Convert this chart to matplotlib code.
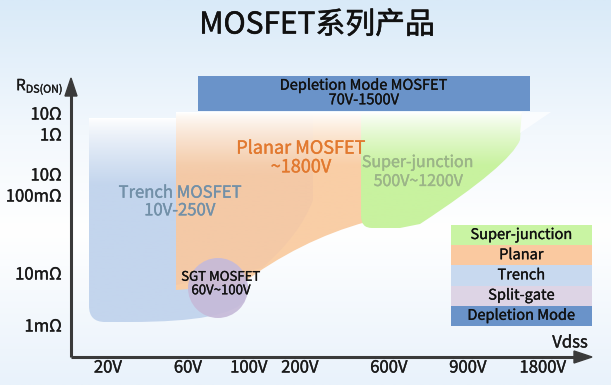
"""MOSFET product family map (Rds(on) vs Vdss), drawn in pixel space."""

import matplotlib
matplotlib.use("Agg")
import matplotlib.patheffects as pe
import matplotlib.pyplot as plt
import numpy as np
from matplotlib.colors import LinearSegmentedColormap, to_rgb
from matplotlib.patches import Circle, PathPatch, Polygon, Rectangle
from matplotlib.path import Path

plt.rcParams["font.family"] = ["Noto Sans CJK SC", "DejaVu Sans"]

# ---- data ----
title = "MOSFET系列产品"
x_tick_labels = ["20V", "60V", "100V", "200V", "600V", "900V", "1800V"]
y_tick_labels = ["10Ω", "1Ω", "10Ω", "100mΩ", "10mΩ", "1mΩ"]
family_names = ["Trench MOSFET", "Planar MOSFET", "Super-junction", "SGT MOSFET", "Depletion Mode MOSFET"]
family_ranges = ["10V-250V", "~1800V", "500V~1200V", "60V~100V", "70V-1500V"]
legend_names = ["Super-junction", "Planar", "Trench", "Split-gate", "Depletion Mode"]
legend_colors = ["#c9f4a3", "#fac9a0", "#c8d9ef", "#ddd4e5", "#6a93c9"]

# ---- layout (pixels) ----
W, H = 611, 385
x_tick_pos = [108, 188, 249, 300, 389, 468, 543]
y_tick_pos = [115, 136, 176, 197, 275, 327]
x0, y0 = 71, 357


def heavy(color, w=0.25):
    # fake a medium weight with a thin stroke of the text colour
    return [pe.withStroke(linewidth=w, foreground=color)]


fig = plt.figure(figsize=(W / 100, H / 100), dpi=100)
ax = fig.add_axes([0, 0, 1, 1])
ax.set_xlim(0, W)
ax.set_ylim(H, 0)
ax.axis("off")

# background gradient
bg = LinearSegmentedColormap.from_list(
    "bg", [(0, "#d9eaf8"), (0.35, "#f3f8fd"), (0.6, "#ffffff"), (1, "#e9f2fb")]
)
ax.imshow(np.linspace(0, 1, 256)[:, None], cmap=bg, extent=[0, W, H, 0], aspect="auto", zorder=0)


def faded_fill(path, color, top, fade_to, z, alpha=1.0):
    """Fill a path with a colour that fades to white towards its top."""
    patch = PathPatch(path, facecolor="none", edgecolor="none")
    ax.add_patch(patch)
    c = np.array(to_rgb(color))
    n = 200
    t = np.clip((np.linspace(top, H, n) - top) / (fade_to - top), 0, 1)[:, None]
    t = t ** 0.8
    rgb = (1 - t) * np.ones(3) + t * c
    img = np.concatenate([rgb, np.full((n, 1), alpha)], axis=1)[:, None, :]
    im = ax.imshow(img, extent=[0, W, H, top], aspect="auto", zorder=z)
    im.set_clip_path(patch)


M, L, C = Path.MOVETO, Path.LINETO, Path.CURVE3

# Trench (blue)
trench = Path(
    [(89, 118), (245, 118), (245, 300), (230, 322), (130, 322), (105, 322), (89, 322), (89, 306), (89, 118)],
    [M, L, L, C, C, L, C, C, L],
)
faded_fill(trench, "#c3d5ed", 118, 185, 2)

# Planar (orange)
planar = Path(
    [(176, 112), (366, 112), (366, 222), (300, 240), (240, 285), (176, 290), (176, 112)],
    [M, L, L, C, C, L, L],
)
faded_fill(planar, "#f9cea6", 112, 165, 3)
inner = Path([(176, 112), (313, 112), (313, 200), (300, 235), (262, 268), (176, 285), (176, 112)],
             [M, L, L, C, C, L, L])
faded_fill(inner, "#eec4a8", 112, 175, 3.5, alpha=0.45)

# Super-junction (green)
sj = Path(
    [(361, 112), (522, 112), (520, 140), (510, 165), (420, 224), (400, 228), (372, 228), (361, 228),
     (361, 216), (361, 112)],
    [M, L, L, C, C, L, L, C, C, L],
)
faded_fill(sj, "#c8f29f", 112, 165, 4)
ax.add_patch(Polygon([(522, 112), (551, 112), (520, 133)], closed=True, facecolor="white",
                     edgecolor="none", alpha=0.7, zorder=4))

# SGT circle
ax.add_patch(Circle((218, 288), 30, facecolor="#c6bad9", edgecolor="none", alpha=0.92, zorder=5))

# Depletion box
ax.add_patch(Rectangle((198, 76), 332, 35, facecolor=legend_colors[4], edgecolor="none", zorder=5))

# axes with arrows
ax.plot([x0, x0], [y0, 92], color="#3a3a3a", lw=2.2, zorder=6, solid_capstyle="butt")
ax.plot([x0, 576], [y0, y0], color="#3a3a3a", lw=2.2, zorder=6, solid_capstyle="butt")
ax.add_patch(Polygon([(x0 - 6, 96), (x0 + 6, 96), (x0, 78)], closed=True, color="#3a3a3a", zorder=6))
ax.add_patch(Polygon([(574, y0 - 6), (574, y0 + 6), (592, y0)], closed=True, color="#3a3a3a", zorder=6))

ax.text(317, 25, title, ha="center", va="center", fontsize=21.5, color="#111111",
        path_effects=heavy("#111111", 0.4), zorder=7)

ax.text(16, 87, r"R$_{\mathregular{DS(ON)}}$", ha="left", va="center", fontsize=11, color="#1a1a1a",
        path_effects=heavy("#1a1a1a"), zorder=7)
for lab, y in zip(y_tick_labels, y_tick_pos):
    ax.text(62, y, lab, ha="right", va="center", fontsize=12, color="#1a1a1a",
            path_effects=heavy("#1a1a1a"), zorder=7)
for lab, x in zip(x_tick_labels, x_tick_pos):
    ax.text(x, 368, lab, ha="center", va="center", fontsize=12, color="#1a1a1a",
            path_effects=heavy("#1a1a1a"), zorder=7)
ax.text(570, 343, "Vdss", ha="center", va="center", fontsize=12, color="#1a1a1a",
        path_effects=heavy("#1a1a1a"), zorder=7)

# family labels
ax.text(180, 202, f"{family_names[0]}\n{family_ranges[0]}", ha="center", va="center",
        fontsize=12, color="#7290a8", linespacing=1.05, path_effects=heavy("#7290a8"), zorder=7)
ax.text(301, 158, f"{family_names[1]}\n{family_ranges[1]}", ha="center", va="center",
        fontsize=13, color="#e2792f", linespacing=1.05, path_effects=heavy("#e2792f"), zorder=7)
ax.text(418, 172, f"{family_names[2]}\n{family_ranges[2]}", ha="center", va="center",
        fontsize=11.5, color="#9bb488", linespacing=1.15, path_effects=heavy("#9bb488"), zorder=7)
ax.text(221, 284, f"{family_names[3]}\n{family_ranges[3]}", ha="center", va="center",
        fontsize=9.5, color="#111111", linespacing=1.05, path_effects=heavy("#111111", 0.2), zorder=7)
ax.text(364, 93, f"{family_names[4]}\n{family_ranges[4]}", ha="center", va="center",
        fontsize=10.5, color="#111111", linespacing=1.05, path_effects=heavy("#111111", 0.2), zorder=7)

# legend
for i, (name, col) in enumerate(zip(legend_names, legend_colors)):
    top = 225 + i * 20.2
    ax.add_patch(Rectangle((451, top), 141, 20.2, facecolor=col, edgecolor="none", zorder=6))
    ax.text(521.5, top + 10, name, ha="center", va="center", fontsize=10.5, color="#111111",
            path_effects=heavy("#111111", 0.2), zorder=7)

fig.savefig("out.png", dpi=100)
